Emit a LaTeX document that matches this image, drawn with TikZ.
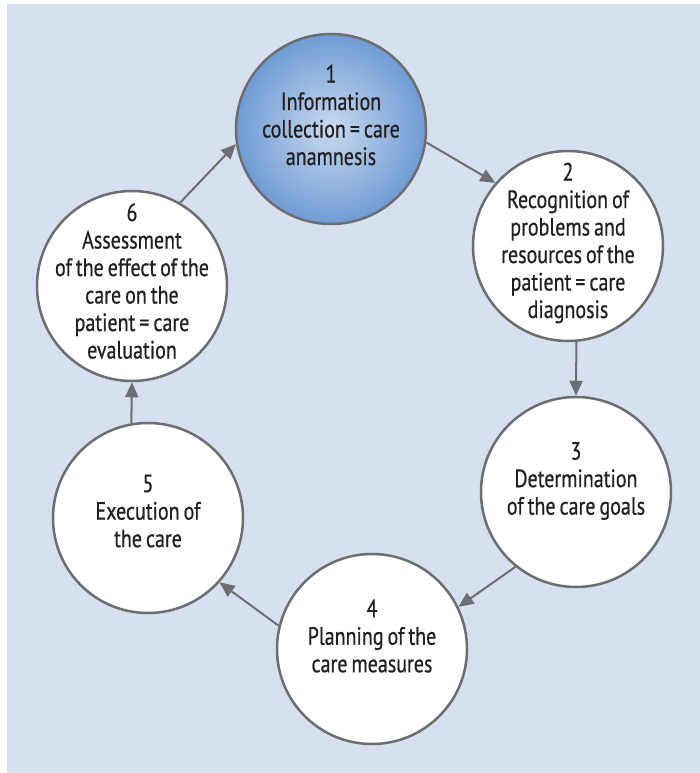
\documentclass[tikz,border=0pt]{standalone}
\usepackage{fontspec}
\setmainfont[FakeStretch=0.8,FakeBold=0.6,WordSpace=0.75]{PT Sans}
\usetikzlibrary{arrows.meta}
\definecolor{bgblue}{HTML}{D6E0F0}
\definecolor{edgegray}{HTML}{6D6E71}
\definecolor{txtcol}{HTML}{231F20}
\definecolor{inblue}{HTML}{C9DAF1}
\definecolor{outblue}{HTML}{6F9BD4}
\tikzset{
  circ/.style={circle, draw=edgegray, line width=2.5pt, fill=white, minimum size=190pt, inner sep=0pt},
  bluecirc/.style={circ, fill=none, inner color=inblue, outer color=outblue},
  txt/.style={align=center, text=txtcol, font=\fontsize{25pt}{27.5pt}\selectfont, inner sep=0pt},
  conn/.style={draw=edgegray, line width=2pt, -{Triangle[length=15pt,width=13pt]}}
}
\begin{document}
\begin{tikzpicture}[x=1pt,y=-1pt]
\useasboundingbox (0,0) rectangle (700,773);
\fill[bgblue] (7,4) rectangle (700,773);
\node[bluecirc] (c1) at (331,129) {};
\node[circ] (c2) at (568,246) {};
\node[circ] (c3) at (576,492) {};
\node[circ] (c4) at (372,649) {};
\node[circ] (c5) at (148,518) {};
\node[circ] (c6) at (132,286) {};
\node[txt] (t1) at (331,115) {1\\Information\\collection = care\\anamnesis};
\node[txt] (t2) at (568,243) {2\\Recognition of\\problems and\\resources of the\\patient = care\\diagnosis};
\node[txt] (t3) at (576,481) {3\\Determination\\of the care goals};
\node[txt] (t4) at (372,636) {4\\Planning of the\\care measures};
\node[txt] (t5) at (148,511) {5\\Execution of\\the care};
\node[txt] (t6) at (132,281) {6\\Assessment\\of the effect of the\\care on the\\patient = care\\evaluation};
\draw[conn] (c1.-8) -- (c2.139);
\draw[conn] (c2.-85) -- (c3.90);
\draw[conn] (c3.231) -- (c4.26);
\draw[conn] (c4.166) -- (c5.-42);
\draw[conn] (c5.100) -- (c6.-90);
\draw[conn] (c6.60) -- (c1.189);
\end{tikzpicture}
\end{document}
